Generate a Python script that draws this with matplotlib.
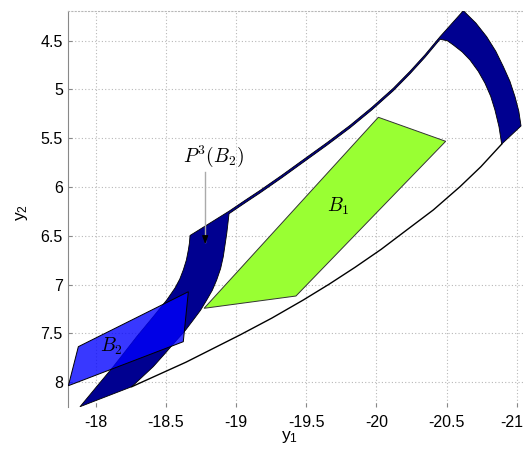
import matplotlib
matplotlib.use("Agg")
import matplotlib.pyplot as plt
import matplotlib.transforms as mtransforms

plt.rcParams['font.family'] = ['Liberation Sans', 'DejaVu Sans']
plt.rcParams['mathtext.fontset'] = 'cm'

# ---- data ----
# B1 region (green)
b1_x = [-20.014, -20.494, -19.427, -18.772]
b1_y = [5.285, 5.531, 7.116, 7.242]

# B2 region (blue)
b2_x = [-18.660, -18.624, -17.805, -17.876]
b2_y = [7.072, 7.584, 8.035, 7.635]

# P^3(B2) image (navy band), boundary traced piece by piece
# left edge of the lower band (bottom tip -> top-left corner)
left_x = [-17.888, -18.006, -18.125, -18.209, -18.292, -18.410, -18.506, -18.565,
          -18.599, -18.624, -18.646, -18.660, -18.668, -18.672]
left_y = [8.250, 8.045, 7.840, 7.686, 7.533, 7.328, 7.157, 7.034,
          6.942, 6.849, 6.747, 6.644, 6.570, 6.496]
# thin upper strip: common x, upper and lower edges
strip_x = [-18.950, -19.064, -19.171, -19.328, -19.479, -19.648, -19.812,
           -19.969, -20.121, -20.240, -20.347, -20.454]
strip_top = [6.247, 6.136, 6.034, 5.877, 5.720, 5.545, 5.368,
             5.182, 4.987, 4.813, 4.644, 4.459]
strip_bot = [6.273, 6.162, 6.060, 5.903, 5.746, 5.571, 5.394,
             5.208, 5.013, 4.839, 4.670, 4.486]
# outer arc of the right band (top corner -> lower right corner)
outer_x = [-20.620, -20.709, -20.786, -20.851, -20.905, -20.952, -20.988, -21.015, -21.031]
outer_y = [4.193, 4.319, 4.459, 4.608, 4.766, 4.917, 5.074, 5.222, 5.374]
# inner arc of the right band (lower inner corner -> strip)
inner_x = [-20.893, -20.874, -20.845, -20.815, -20.774, -20.726, -20.667,
           -20.612, -20.548, -20.506]
inner_y = [5.560, 5.383, 5.210, 5.071, 4.936, 4.814, 4.698,
           4.616, 4.544, 4.501]
# right edge of the lower band (top -> bottom corner)
right_x = [-18.934, -18.909, -18.890, -18.862, -18.831, -18.791, -18.747,
           -18.695, -18.640, -18.577, -18.494, -18.410, -18.257]
right_y = [6.473, 6.713, 6.835, 6.952, 7.057, 7.157, 7.262,
           7.362, 7.466, 7.567, 7.705, 7.840, 8.045]

# lower boundary curve (zero-thickness part of the image)
low_x = [-20.893, -20.745, -20.596, -20.406, -20.216, -20.033, -19.848,
         -19.662, -19.479, -19.254, -19.028, -18.643, -18.257]
low_y = [5.560, 5.791, 5.996, 6.234, 6.440, 6.639, 6.822,
         6.996, 7.157, 7.343, 7.515, 7.794, 8.045]

# annotation arrow for P^3(B2)
arrow_x = -18.78
arrow_y0, arrow_y1 = 5.845, 6.614

xticks = [-18, -18.5, -19, -19.5, -20, -20.5, -21]
xtick_labels = ['-18', '-18.5', '-19', '-19.5', '-20', '-20.5', '-21']
yticks = [4.5, 5, 5.5, 6, 6.5, 7, 7.5, 8]
ytick_labels = ['4.5', '5', '5.5', '6', '6.5', '7', '7.5', '8']

# assemble the band outline (one simple polygon)
band_x = (left_x + strip_x + outer_x + inner_x
          + strip_x[::-1] + right_x)
band_y = (left_y + strip_top + outer_y + inner_y
          + strip_bot[::-1] + right_y)

# ---- figure ----
fig = plt.figure(figsize=(5.23, 4.53), dpi=100)
ax = fig.add_axes([0.1294, 0.1022, 0.8706, 0.8742])
ax.set_xlim(-17.8, -21.045)
ax.set_ylim(8.25, 4.193)

ax.set_xticks(xticks)
ax.set_xticklabels(xtick_labels)
ax.set_yticks(yticks)
ax.set_yticklabels(ytick_labels)
ax.tick_params(axis='both', direction='in', length=3, width=0.8,
               color='#888888', labelsize=11.5, labelcolor='black')
ax.tick_params(axis='x', pad=6)
ax.tick_params(axis='y', pad=3.5)

# keep the last x tick label inside the figure (it sits at the right edge)
last_lbl = ax.get_xticklabels()[-1]
last_lbl.set_transform(last_lbl.get_transform() +
                       mtransforms.ScaledTranslation(-5 / 100, 0, fig.dpi_scale_trans))

ax.grid(True, linestyle=(0, (1, 2)), color='#b8b8b8', linewidth=0.8)
ax.set_axisbelow(True)

for s in ['right', 'bottom']:
    ax.spines[s].set_visible(False)
ax.spines['left'].set_color('#888888')
ax.spines['left'].set_linewidth(0.8)
ax.spines['top'].set_color('#b8b8b8')
ax.spines['top'].set_linestyle((0, (1, 2)))
ax.spines['top'].set_linewidth(0.8)

ax.fill(b1_x, b1_y, facecolor='#99FF33', edgecolor='#333333', linewidth=0.7, zorder=2)
ax.fill(band_x, band_y, facecolor='#000090', edgecolor='black', linewidth=0.6,
        joinstyle='round', zorder=3)
ax.plot(low_x, low_y, color='black', linewidth=1.0, zorder=3)
ax.fill(b2_x, b2_y, facecolor='#0000FF', alpha=0.78, edgecolor='none', zorder=4)
ax.fill(b2_x, b2_y, facecolor='none', edgecolor='black', linewidth=0.7, zorder=4)

ax.plot([arrow_x, arrow_x], [arrow_y0, arrow_y1 - 0.05], color='#aaaaaa',
        linewidth=1.0, zorder=5)
ax.annotate('', xy=(arrow_x, arrow_y1), xytext=(arrow_x, arrow_y1 - 0.12),
            arrowprops=dict(arrowstyle='-|>,head_length=0.5,head_width=0.18',
                            color='black', lw=0.8), zorder=6)

ax.text(-18.836, 5.681, r'$P^3(B_2)$', fontsize=14, ha='center', va='center', zorder=6)
ax.text(-19.729, 6.201, r'$B_1$', fontsize=14, ha='center', va='center', zorder=6)
ax.text(-18.114, 7.635, r'$B_2$', fontsize=14, ha='center', va='center', zorder=6)

fig.text(290 / 523, 1 - 437 / 453, r'$\mathregular{y_1}$', fontsize=12.5,
         ha='center', va='center')
fig.text(22 / 523, 1 - 213 / 453, r'$\mathregular{y_2}$', fontsize=12.5,
         ha='center', va='center', rotation=90)

fig.savefig('out.png', dpi=100)
